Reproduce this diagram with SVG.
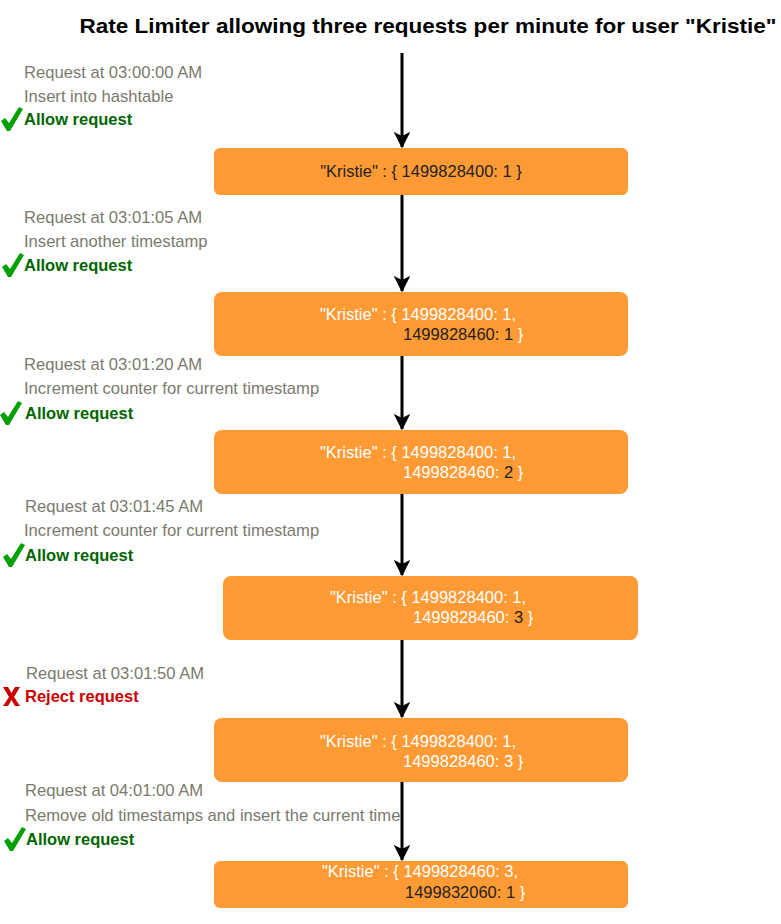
<svg xmlns="http://www.w3.org/2000/svg" width="781" height="924" viewBox="0 0 781 924">
<style>
.title{font-family:"Liberation Sans",Arial,sans-serif;font-weight:bold;font-size:21px;fill:#000}
.lbl{font-family:"Liberation Sans",Arial,sans-serif;font-size:16.6px;fill:#7a7a6e}
.ok{font-family:"Liberation Sans",Arial,sans-serif;font-size:16.5px;font-weight:bold;fill:#006600}
.no{font-family:"Liberation Sans",Arial,sans-serif;font-size:16.5px;font-weight:bold;fill:#cc0000}
.box{fill:#ff9a35}
.bt{font-family:"Liberation Sans",Arial,sans-serif;font-size:16.5px;fill:#ffffff}
.dk{fill:#222}
.conn{stroke:#000;stroke-width:3;fill:none}
.chk{fill:#00a000}
.x{fill:#cc0000}
</style>
<defs>
<marker id="ah" viewBox="0 0 12 12" refX="11" refY="6" markerWidth="5.5" markerHeight="5.5" markerUnits="strokeWidth" orient="auto">
<path d="M0,0 L12,6 L0,12 L3,6 Z" fill="#000"/>
</marker>
<path id="check" d="M0,14 L4,11 L8,16 L18,0 L22,2 L9,24 L6,24 Z"/>
</defs>
<text class="title" x="428" y="33" text-anchor="middle" textLength="697" lengthAdjust="spacingAndGlyphs">Rate Limiter allowing three requests per minute for user "Kristie"</text>

<g id="connectors">
<line class="conn" x1="402" y1="53" x2="402" y2="147" marker-end="url(#ah)"/>
<line class="conn" x1="402" y1="195" x2="402" y2="291" marker-end="url(#ah)"/>
<line class="conn" x1="402" y1="356" x2="402" y2="429" marker-end="url(#ah)"/>
<line class="conn" x1="402" y1="494" x2="402" y2="575" marker-end="url(#ah)"/>
<line class="conn" x1="402" y1="640" x2="402" y2="717" marker-end="url(#ah)"/>
<line class="conn" x1="402" y1="782" x2="402" y2="860" marker-end="url(#ah)"/>
</g>

<g id="label1">
<text class="lbl" x="24" y="78">Request at 03:00:00 AM</text>
<text class="lbl" x="24" y="102">Insert into hashtable</text>
<use href="#check" class="chk" x="1" y="107"/>
<text class="ok" x="24" y="125">Allow request</text>
</g>
<g id="label2">
<text class="lbl" x="24" y="223">Request at 03:01:05 AM</text>
<text class="lbl" x="24" y="247">Insert another timestamp</text>
<use href="#check" class="chk" x="2" y="253"/>
<text class="ok" x="24" y="271">Allow request</text>
</g>
<g id="label3">
<text class="lbl" x="24" y="370">Request at 03:01:20 AM</text>
<text class="lbl" x="24" y="394">Increment counter for current timestamp</text>
<use href="#check" class="chk" x="0" y="401"/>
<text class="ok" x="25" y="419">Allow request</text>
</g>
<g id="label4">
<text class="lbl" x="25" y="512">Request at 03:01:45 AM</text>
<text class="lbl" x="24" y="536">Increment counter for current timestamp</text>
<use href="#check" class="chk" x="3" y="543"/>
<text class="ok" x="25" y="561">Allow request</text>
</g>
<g id="label5">
<text class="lbl" x="26" y="679">Request at 03:01:50 AM</text>
<path class="x" d="M3,687 L8,687 L11.5,693 L15,687 L20,687 L14,697 L20,706 L15,706 L11.5,700 L8,706 L3,706 L9,697 Z"/>
<text class="no" x="25" y="702">Reject request</text>
</g>
<g id="label6">
<text class="lbl" x="25" y="796">Request at 04:01:00 AM</text>
<text class="lbl" x="25" y="821">Remove old timestamps and insert the current time</text>
<use href="#check" class="chk" x="4" y="827"/>
<text class="ok" x="26" y="845">Allow request</text>
</g>

<g id="node1">
<rect class="box" x="214" y="148" width="414" height="47" rx="6"/>
<text class="bt dk" x="421" y="177" text-anchor="middle">"Kristie" : { 1499828400: 1 }</text>
</g>
<g id="node2">
<rect class="box" x="214" y="292" width="414" height="64" rx="8"/>
<text class="bt" x="320" y="320">"Kristie" : { 1499828400: 1,</text>
<text class="bt" x="403" y="340"><tspan class="dk">1499828460: 1</tspan> }</text>
</g>
<g id="node3">
<rect class="box" x="214" y="430" width="414" height="64" rx="8"/>
<text class="bt" x="320" y="458">"Kristie" : { 1499828400: 1,</text>
<text class="bt" x="403" y="478">1499828460: <tspan class="dk">2</tspan> }</text>
</g>
<g id="node4">
<rect class="box" x="223" y="576" width="415" height="64" rx="8"/>
<text class="bt" x="330" y="603">"Kristie" : { 1499828400: 1,</text>
<text class="bt" x="413" y="623">1499828460: <tspan class="dk">3</tspan> }</text>
</g>
<g id="node5">
<rect class="box" x="214" y="718" width="414" height="64" rx="8"/>
<text class="bt" x="320" y="747">"Kristie" : { 1499828400: 1,</text>
<text class="bt" x="403" y="767">1499828460: 3 }</text>
</g>
<g id="node6">
<rect class="box" x="214" y="861" width="414" height="47" rx="6"/>
<text class="bt" x="322" y="877">"Kristie" : { 1499828460: 3,</text>
<text class="bt" x="405" y="898"><tspan class="dk">1499832060: 1</tspan> }</text>
</g>
</svg>
